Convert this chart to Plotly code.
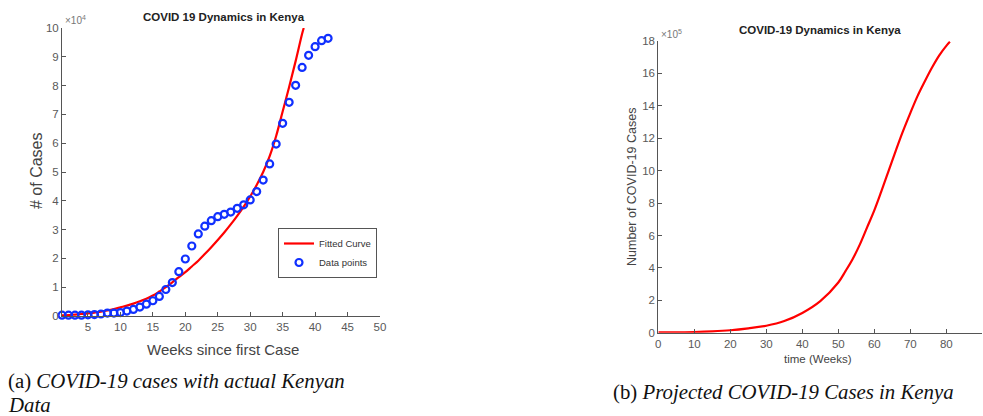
import plotly.graph_objects as go

W, H = 983, 416

# ---------------- Data (a): actual Kenyan data, cases in units of 1e4 ----------------
weeks_actual = list(range(1, 43))
cases_actual_e4 = [0.03, 0.03, 0.03, 0.03, 0.04, 0.05, 0.07, 0.10, 0.10, 0.12,
                   0.17, 0.23, 0.31, 0.41, 0.53, 0.68, 0.92, 1.16, 1.54, 1.98,
                   2.43, 2.85, 3.12, 3.31, 3.45, 3.53, 3.61, 3.74, 3.86, 4.03,
                   4.32, 4.72, 5.28, 5.97, 6.69, 7.42, 8.01, 8.63, 9.05, 9.35,
                   9.56, 9.64]

weeks_fit = [1, 2, 3, 4, 5, 6, 7, 8, 9, 10, 11, 12, 13, 14, 15, 16, 17, 18, 19, 20,
             21, 22, 23, 24, 25, 26, 27, 28, 29, 30, 31, 32, 33, 34, 35, 36, 37, 38, 38.25]
cases_fit_e4 = [0.02, 0.03, 0.05, 0.07, 0.09, 0.12, 0.15, 0.19, 0.24, 0.30,
                0.36, 0.43, 0.51, 0.60, 0.71, 0.85, 1.00, 1.17, 1.35, 1.52,
                1.72, 1.92, 2.15, 2.39, 2.64, 2.90, 3.18, 3.48, 3.80, 4.15,
                4.55, 5.00, 5.55, 6.25, 7.10, 7.95, 8.85, 9.80, 10.0]

# ---------------- Data (b): projection, cases in units of 1e5 ----------------
weeks_proj = [0, 5, 10, 15, 20, 25, 30, 35, 40, 45, 50, 52, 54, 56, 58, 60, 62, 64,
              66, 68, 70, 72, 74, 76, 78, 80, 81]
cases_proj_e5 = [0.02, 0.02, 0.04, 0.08, 0.15, 0.27, 0.43, 0.72, 1.22, 1.95, 3.10,
                 3.80, 4.55, 5.45, 6.50, 7.55, 8.75, 10.00, 11.25, 12.45, 13.55,
                 14.60, 15.50, 16.35, 17.10, 17.70, 17.95]

left_xticks = [5, 10, 15, 20, 25, 30, 35, 40, 45, 50]
left_yticks = list(range(0, 11))
right_xticks = list(range(0, 100, 10))
right_yticks = list(range(0, 20, 2))


def px(x):
    return x / W


def py(y):
    return 1 - y / H


fig = go.Figure()

fig.add_trace(go.Scatter(x=weeks_fit, y=cases_fit_e4, mode="lines", name="Fitted Curve",
                         line=dict(color="#ff0000", width=2.2, shape="spline"),
                         xaxis="x", yaxis="y", cliponaxis=False))
fig.add_trace(go.Scatter(x=weeks_actual, y=cases_actual_e4, mode="markers", name="Data points",
                         marker=dict(symbol="circle-open", size=7, color="#1030ff",
                                     line=dict(width=2.2, color="#1030ff")),
                         xaxis="x", yaxis="y", cliponaxis=False))
fig.add_trace(go.Scatter(x=weeks_proj, y=cases_proj_e5, mode="lines", showlegend=False,
                         line=dict(color="#ff0000", width=2.2, shape="spline"),
                         xaxis="x2", yaxis="y2", cliponaxis=False))

axis_common = dict(showline=True, linecolor="#555555", linewidth=1, ticks="inside",
                   ticklen=4, tickcolor="#555555", showgrid=False, zeroline=False,
                   tickfont=dict(family="Liberation Sans, Arial", size=11.5, color="#595959"),
                   mirror=False, fixedrange=True, automargin=False)

fig.update_layout(
    width=W, height=H, margin=dict(l=0, r=0, t=0, b=0, pad=0, autoexpand=False),
    paper_bgcolor="white", plot_bgcolor="white",
    xaxis=dict(domain=[px(62), px(380)], range=[1, 50], tickvals=left_xticks,
               anchor="y", **axis_common),
    yaxis=dict(domain=[py(316), py(28)], range=[0, 10], tickvals=left_yticks,
               anchor="x", **axis_common),
    xaxis2=dict(domain=[px(658.3), px(982.3)], range=[0, 90], tickvals=right_xticks,
                anchor="y2", **axis_common),
    yaxis2=dict(domain=[py(332.7), py(41)], range=[0, 18], tickvals=right_yticks,
                anchor="x2", **axis_common),
    showlegend=True,
    legend=dict(x=px(278), y=py(228), xanchor="left", yanchor="top",
                bordercolor="#555555", borderwidth=1, bgcolor="white",
                font=dict(family="Liberation Sans, Arial", size=9.5, color="#333333"),
                itemwidth=30, tracegroupgap=0),
)

ann = []


def add_text(text, x, y, size, color="#333333", family="Liberation Sans, Arial",
             xanchor="center", yanchor="middle", angle=0):
    ann.append(dict(text=text, x=px(x), y=py(y), xref="paper", yref="paper",
                    showarrow=False, xanchor=xanchor, yanchor=yanchor, textangle=angle,
                    font=dict(size=size, color=color, family=family)))


# titles
add_text("<b>COVID 19 Dynamics in Kenya</b>", 224, 17, 11.5, "#222222")
add_text("<b>COVID-19 Dynamics in Kenya</b>", 820, 30, 11.5, "#222222")
# exponent labels
add_text("×10<sup>4</sup>", 63, 20, 10, "#777777", xanchor="left")
add_text("×10<sup>5</sup>", 659, 34, 10, "#777777", xanchor="left")
# axis titles
add_text("Weeks since first Case", 223, 349, 15, "#444444")
add_text("# of Cases", 36, 171, 16, "#444444", angle=-90)
add_text("time (Weeks)", 818, 359, 11.5, "#444444")
add_text("Number of COVID-19 Cases", 632, 187, 12.5, "#444444", angle=-90)
# captions
add_text("(a) <i>COVID-19 cases with actual Kenyan</i>", 6, 381, 20.8, "#111111",
         family="Liberation Serif, Times New Roman", xanchor="left")
add_text("<i>Data</i>", 6, 404, 20.8, "#111111",
         family="Liberation Serif, Times New Roman", xanchor="left")
add_text("(b) <i>Projected COVID-19 Cases in Kenya</i>", 611, 392, 20.8, "#111111",
         family="Liberation Serif, Times New Roman", xanchor="left")

fig.update_layout(annotations=ann)

fig.write_html("out.html", config={"displayModeBar": False},
               post_script="document.body.style.margin='0';document.body.style.overflow='hidden';")
